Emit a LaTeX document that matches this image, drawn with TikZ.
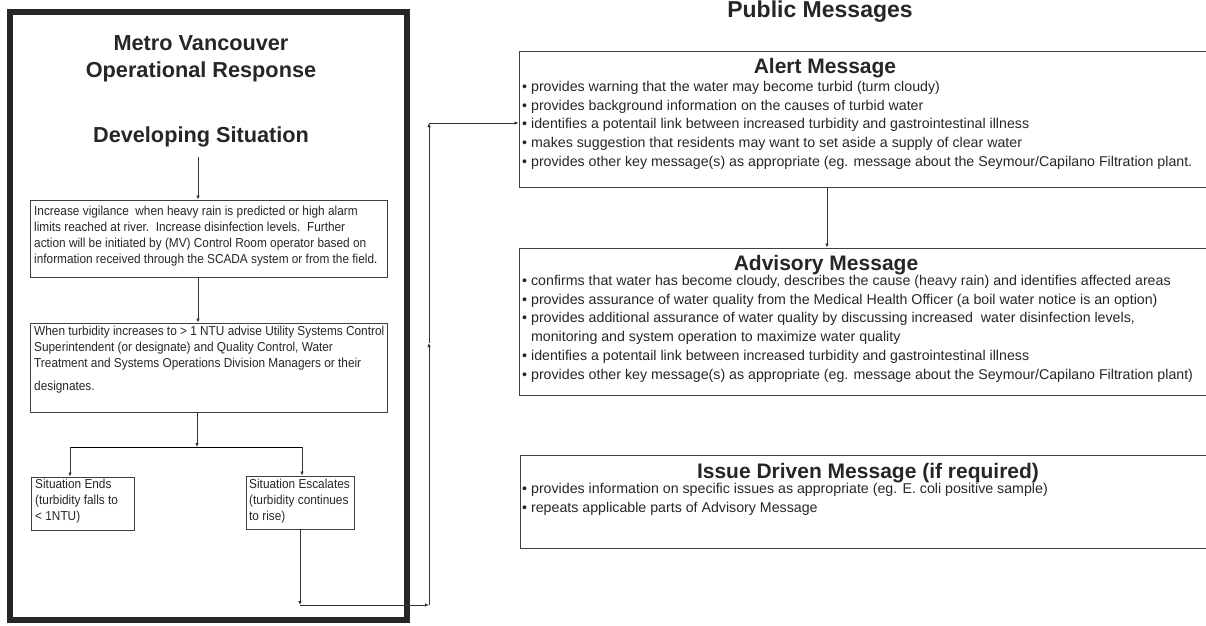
\documentclass[tikz,border=0pt]{standalone}
\usepackage{fontspec}
\setmainfont{Liberation Sans}
\newfontfamily\notefont[FakeStretch=0.91]{Liberation Sans}
\usetikzlibrary{arrows.meta}

\begin{document}
\begin{tikzpicture}[x=1pt,y=-1pt,
  box/.style={draw=black!75,line width=0.9pt,inner sep=0pt},
  note/.style={anchor=north west,inner sep=0pt,align=left,text=black!85,
    font=\notefont\fontsize{13}{15.8}\selectfont},
  msg/.style={anchor=north west,inner sep=0pt,align=left,text=black!85,
    font=\fontsize{14.2}{18.7}\selectfont},
  head/.style={text=black!85,font=\bfseries\fontsize{21.7}{27}\selectfont,align=center},
  sub/.style={text=black!85,font=\bfseries\fontsize{21}{24}\selectfont},
  arr/.style={-{Latex[length=4pt,width=3.5pt]},line width=0.8pt,draw=black!80}]
\useasboundingbox (0,0) rectangle (1206,625);

% operational response
\draw[line width=5.5pt,draw=black!85] (10,12) rectangle (407,620);
\node[head] (metro) at (201,59) {Metro Vancouver\\Operational Response};
\node[head] (dev) at (201,137) {Developing Situation};

\node[box,minimum width=357,minimum height=77] (vig) at (208.5,238.5) {};
\node[note] at (34,206) {Increase vigilance\ \ when heavy rain is predicted or high alarm\\
limits reached at river.\ \ Increase disinfection levels.\ \ Further\\
action will be initiated by (MV) Control Room operator based on\\
information received through the SCADA system or from the field.};

\node[box,minimum width=357,minimum height=89] (act) at (208.5,367.5) {};
\node[note] at (34,326) {When turbidity increases to > 1 NTU advise Utility Systems Control\\
Superintendent (or designate) and Quality Control, Water\\
Treatment and Systems Operations Division Managers or their\\[7pt]
designates.};

\node[box,minimum width=103,minimum height=53] (ends) at (82.5,503.5) {};
\node[note] at (35,479) {Situation Ends\\(turbidity falls to\\< 1NTU)};
\node[box,minimum width=108,minimum height=53] (esc) at (300,502.5) {};
\node[note] at (249,479) {Situation Escalates\\(turbidity continues\\to rise)};

\coordinate (devfoot) at (198,157);
\coordinate (split) at (197,447);
\coordinate (lj) at (70,447);
\coordinate (rj) at (302,447);
\draw[arr] (devfoot) -- (vig.north -| devfoot);
\draw[arr] (vig.south -| devfoot) -- (act.north -| devfoot);
\draw[arr] (act.south -| split) -- (split);
\draw (lj) -- (rj);
\draw[arr] (lj) -- (ends.north -| lj);
\draw[arr] (rj) -- (esc.north -| rj);

% public messages
\node[sub,font=\bfseries\fontsize{23}{26}\selectfont] (pub) at (820,12) {Public Messages};

\node[box,minimum width=694,minimum height=136] (alert) at (866,119) {};
\node[sub] at (825,68) {Alert Message};
\node[msg] at (522,81) {\textbullet\ provides warning that the water may become turbid (turm cloudy)\\
\textbullet\ provides background information on the causes of turbid water\\
\textbullet\ identifies a potentail link between increased turbidity and gastrointestinal illness\\
\textbullet\ makes suggestion that residents may want to set aside a supply of clear water\\
\textbullet\ provides other key message(s) as appropriate (eg. message about the Seymour/Capilano Filtration plant.};

\node[box,minimum width=694,minimum height=147] (adv) at (866,321.5) {};
\node[sub] at (826,265) {Advisory Message};
\node[msg] at (522,275) {\textbullet\ confirms that water has become cloudy, describes the cause (heavy rain) and identifies affected areas\\
\textbullet\ provides assurance of water quality from the Medical Health Officer (a boil water notice is an option)\\
\textbullet\ provides additional assurance of water quality by discussing increased\ \ water disinfection levels,\\
\phantom{\textbullet\ }monitoring and system operation to maximize water quality\\
\textbullet\ identifies a potentail link between increased turbidity and gastrointestinal illness\\
\textbullet\ provides other key message(s) as appropriate (eg. message about the Seymour/Capilano Filtration plant)};

\node[box,minimum width=694,minimum height=93] (issue) at (867,501.5) {};
\node[sub] at (868,473) {Issue Driven Message (if required)};
\node[msg] at (522,483) {\textbullet\ provides information on specific issues as appropriate (eg. E. coli positive sample)\\
\textbullet\ repeats applicable parts of Advisory Message};

\draw[arr] (alert.south -| 827,0) -- (adv.north -| 827,0);

% escalation path
\coordinate (esfoot) at (300,605);
\coordinate (corner) at (429,605);
\coordinate (mid) at (429,343);
\coordinate (top) at (429,123);
\draw[arr] (esc.south -| esfoot) -- (esfoot);
\draw[arr] (esfoot) -- (corner);
\draw[arr] (corner) -- (mid);
\draw[arr] (mid) -- (top);
\draw[arr] (top) -- (alert.west |- top);
\end{tikzpicture}
\end{document}
